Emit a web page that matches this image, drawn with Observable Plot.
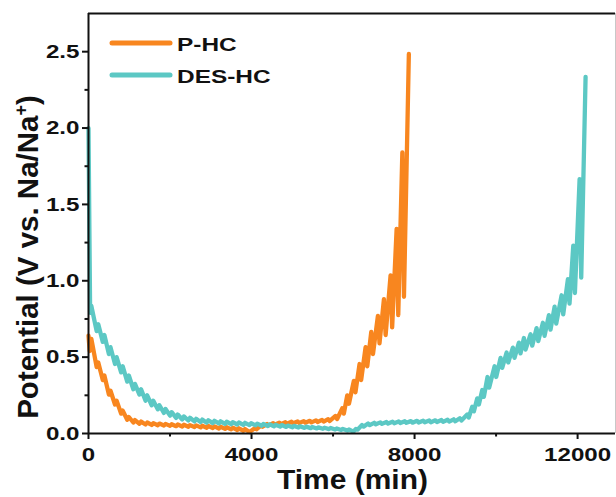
<!DOCTYPE html>
<html><head><meta charset="utf-8">
<script src="https://cdn.jsdelivr.net/npm/d3@7"></script>
<script src="https://cdn.jsdelivr.net/npm/@observablehq/plot@0.6"></script>
<style>
html,body{margin:0;padding:0;background:#fff;}
#chart svg{display:block;}
</style></head><body>
<div id="chart"></div>
<script>
// ---------- data ----------
const seriesNames = ["P-HC", "DES-HC"];
const seriesColors = ["#f8861f", "#5cc8c4"];

// P-HC turning points (time in min, potential in V)
const phcTime = [0, 30, 70, 200, 240, 350, 390, 500, 540, 650, 690, 800, 840, 950, 990, 1100, 1140, 1250, 1290, 1400, 1440, 1550, 1590, 1700, 1740, 1850, 1890, 2000, 2040, 2150, 2190, 2300, 2340, 2450, 2490, 2600, 2640, 2750, 2790, 2900, 2940, 3050, 3090, 3200, 3240, 3350, 3390, 3500, 3540, 3650, 3690, 3800, 3840, 3950,
  4080, 4120, 4230, 4270, 4380, 4420, 4530, 4570, 4680, 4720, 4830, 4870, 4980, 5020, 5130, 5170, 5280, 5320, 5430, 5470, 5580, 5620, 5730, 5770, 5880, 5920,
  6061, 6100, 6225, 6265, 6348, 6390, 6511, 6550, 6650, 6690, 6798, 6840, 6937, 6980, 7100, 7140, 7248, 7290, 7411, 7450, 7560, 7600, 7700, 7740, 7860];
const phcPotential = [0.64, 0.54, 0.62, 0.435, 0.465, 0.35, 0.38, 0.255, 0.28, 0.19, 0.215, 0.13, 0.15, 0.09, 0.108, 0.072, 0.088, 0.064, 0.078, 0.059, 0.072, 0.056, 0.068, 0.054, 0.065, 0.052, 0.063, 0.050, 0.061, 0.048, 0.059, 0.046, 0.057, 0.044, 0.055, 0.042, 0.053, 0.040, 0.051, 0.038, 0.049, 0.036, 0.047, 0.033, 0.044, 0.030, 0.041, 0.027, 0.038, 0.023, 0.034, 0.018, 0.029, 0.010,
  0.035, 0.028, 0.052, 0.044, 0.062, 0.053, 0.067, 0.058, 0.071, 0.061, 0.074, 0.064, 0.077, 0.067, 0.079, 0.069, 0.081, 0.071, 0.083, 0.073, 0.086, 0.075, 0.089, 0.078, 0.094, 0.082,
  0.115, 0.095, 0.165, 0.13, 0.25, 0.195, 0.345, 0.27, 0.455, 0.35, 0.565, 0.44, 0.665, 0.52, 0.77, 0.59, 0.88, 0.645, 1.035, 0.695, 1.34, 0.775, 1.84, 0.895, 2.485];

// DES-HC turning points
const desTime = [0, 40, 70, 200, 240, 350, 390, 500, 540, 650, 690, 800, 840, 950, 990, 1100, 1140, 1250, 1290, 1400, 1440, 1550, 1590, 1700, 1740, 1850, 1890, 2000, 2040, 2150, 2190, 2300, 2340, 2450, 2490, 2600, 2640, 2750, 2790, 2900, 2940, 3050, 3090, 3200, 3240, 3350, 3390, 3500, 3540, 3650, 3690, 3800, 3840, 3950, 3990, 4100, 4140, 4250, 4290, 4400, 4440, 4550, 4590, 4700, 4740, 4850, 4890, 5000, 5040, 5150, 5190, 5300, 5340, 5450, 5490, 5600, 5640, 5750, 5790, 5900, 5940, 6050, 6090, 6200, 6240, 6350, 6390, 6500,
  6560, 6600, 6710, 6750, 6860, 6900, 7010, 7050, 7160, 7200, 7310, 7350, 7460, 7500, 7610, 7650, 7760, 7800, 7910, 7950, 8060, 8100, 8210, 8250, 8360, 8400, 8510, 8550, 8660, 8700, 8810, 8850, 8960, 9000, 9110, 9150,
  9292, 9330, 9415, 9455, 9538, 9578, 9661, 9700, 9790, 9830, 9963, 10003, 10110, 10150, 10258, 10298, 10412, 10452, 10560, 10600, 10683, 10723, 10847, 10887, 10994, 11034, 11149, 11189, 11296, 11336, 11436, 11476, 11607, 11647, 11762, 11802, 11894, 11934, 12049, 12089, 12196];
const desPotential = [2.0, 0.79, 0.835, 0.67, 0.715, 0.60, 0.645, 0.52, 0.565, 0.455, 0.50, 0.40, 0.44, 0.34, 0.38, 0.29, 0.325, 0.255, 0.29, 0.215, 0.25, 0.185, 0.215, 0.158, 0.185, 0.135, 0.16, 0.117, 0.14, 0.102, 0.124, 0.092, 0.112, 0.085, 0.103, 0.079, 0.096, 0.075, 0.091, 0.071, 0.087, 0.068, 0.083, 0.066, 0.080, 0.063, 0.077, 0.061, 0.074, 0.059, 0.072, 0.057, 0.070, 0.055, 0.067, 0.053, 0.065, 0.051, 0.062, 0.049, 0.060, 0.047, 0.057, 0.045, 0.055, 0.043, 0.052, 0.041, 0.050, 0.039, 0.047, 0.037, 0.045, 0.035, 0.043, 0.033, 0.040, 0.031, 0.038, 0.029, 0.036, 0.026, 0.033, 0.023, 0.030, 0.019, 0.026, 0.012,
  0.030, 0.025, 0.055, 0.045, 0.065, 0.055, 0.070, 0.060, 0.073, 0.063, 0.075, 0.065, 0.077, 0.067, 0.079, 0.068, 0.080, 0.070, 0.081, 0.071, 0.083, 0.072, 0.084, 0.073, 0.085, 0.074, 0.086, 0.075, 0.088, 0.076, 0.090, 0.078, 0.093, 0.080, 0.100, 0.085,
  0.125, 0.105, 0.175, 0.145, 0.23, 0.19, 0.285, 0.24, 0.37, 0.30, 0.44, 0.37, 0.495, 0.43, 0.53, 0.465, 0.562, 0.495, 0.595, 0.525, 0.625, 0.55, 0.65, 0.575, 0.69, 0.605, 0.725, 0.64, 0.775, 0.68, 0.83, 0.72, 0.905, 0.78, 1.01, 0.85, 1.23, 0.92, 1.665, 1.02, 2.335];

const xDomain = [0, 12930];
const yDomain = [0, 2.75];
const xMajorTicks = [0, 4000, 8000, 12000];
const xMinorTicks = [2000, 6000, 10000];
const yMajorTicks = [0, 0.5, 1.0, 1.5, 2.0, 2.5];
const yMinorTicks = [0.25, 0.75, 1.25, 1.75, 2.25];
const xTitle = "Time (min)";
const yTitleMain = "Potential (V vs. Na/Na";
const yTitleSup = "+";
const yTitleEnd = ")";

// ---------- build ----------
const rows = [
  ...phcTime.map((t, i) => ({series: seriesNames[0], t, v: phcPotential[i]})),
  ...desTime.map((t, i) => ({series: seriesNames[1], t, v: desPotential[i]}))
];

const FONT = "'Liberation Sans', Arial, Helvetica, sans-serif";
const W = 616, H = 497;
const M = {left: 88, right: 1, top: 13, bottom: 64};

function overlay(index, scales, values, dims) {
  const g = d3.create("svg:g").attr("font-family", FONT).attr("font-weight", "bold").attr("fill", "#111");
  // legend
  const lx0 = dims.marginLeft + 24, lx1 = dims.marginLeft + 82;
  const ly = [dims.marginTop + 30, dims.marginTop + 62];
  seriesNames.forEach((name, i) => {
    g.append("line").attr("x1", lx0).attr("x2", lx1).attr("y1", ly[i]).attr("y2", ly[i])
      .attr("stroke", seriesColors[i]).attr("stroke-width", 5).attr("stroke-linecap", "round");
    g.append("text").attr("class", "stretch-leg").attr("text-anchor", "start")
      .attr("x", lx1 + 7).attr("y", ly[i] + 7.5)
      .attr("font-size", 18.5).text(name);
  });
  // x title
  g.append("text").attr("class", "stretch-xt")
    .attr("x", (dims.marginLeft + dims.width - dims.marginRight) / 2 + 1)
    .attr("y", dims.height - 8.5).attr("text-anchor", "middle").attr("font-size", 28).text(xTitle);
  // y title
  const yt = g.append("text").attr("text-anchor", "middle").attr("font-size", 29.5)
    .attr("transform", `translate(38,${(dims.marginTop + dims.height - dims.marginBottom) / 2 + 34}) rotate(-90)`);
  yt.append("tspan").text(yTitleMain);
  yt.append("tspan").attr("font-size", 18).attr("dy", -11).text(yTitleSup);
  yt.append("tspan").attr("dy", 11).text(yTitleEnd);
  return g.node();
}

const plot = Plot.plot({
  width: W, height: H,
  marginLeft: M.left, marginRight: M.right, marginTop: M.top, marginBottom: M.bottom,
  style: {background: "#fff", fontFamily: FONT},
  x: {domain: xDomain, label: null},
  y: {domain: yDomain, label: null},
  color: {domain: seriesNames, range: seriesColors},
  marks: [
    Plot.line(rows, {x: "t", y: "v", z: "series", stroke: "series", strokeWidth: 4.3, strokeLinejoin: "round", strokeLinecap: "round"}),
    Plot.ruleX([xDomain[1]], {stroke: "#c8c8c8", strokeWidth: 1}),
    Plot.ruleY([yDomain[1]], {stroke: "#111", strokeWidth: 2}),
    Plot.ruleY([yDomain[0]], {stroke: "#111", strokeWidth: 2}),
    Plot.ruleX([xDomain[0]], {stroke: "#111", strokeWidth: 2}),
    Plot.axisX(xMajorTicks, {tickSize: 6, tickPadding: 8, strokeWidth: 2, stroke: "#111", fill: "#111", fontSize: 19, fontWeight: "bold", tickFormat: d => String(d), label: null}),
    Plot.axisX(xMinorTicks, {tickSize: 3.5, strokeWidth: 2, stroke: "#111", tickFormat: () => "", label: null}),
    Plot.axisY(yMajorTicks, {tickSize: 6, tickPadding: 3, strokeWidth: 2, stroke: "#111", fill: "#111", fontSize: 19, fontWeight: "bold", tickFormat: d3.format(".1f"), label: null}),
    Plot.axisY(yMinorTicks, {tickSize: 3.5, strokeWidth: 2, stroke: "#111", tickFormat: () => "", label: null}),
    overlay
  ]
});

document.getElementById("chart").appendChild(plot);

function stretch(nodes, f) {
  nodes.forEach(n => {
    if (!n.textContent) return;
    const L = n.getComputedTextLength();
    n.setAttribute("textLength", (L * f).toFixed(1));
    n.setAttribute("lengthAdjust", "spacingAndGlyphs");
  });
}
stretch(plot.querySelectorAll('g[aria-label="x-axis tick label"] text, g[aria-label="y-axis tick label"] text'), 1.27);
stretch(plot.querySelectorAll('text.stretch-leg'), 1.32);
stretch(plot.querySelectorAll('text.stretch-xt'), 1.07);
</script>
</body></html>
